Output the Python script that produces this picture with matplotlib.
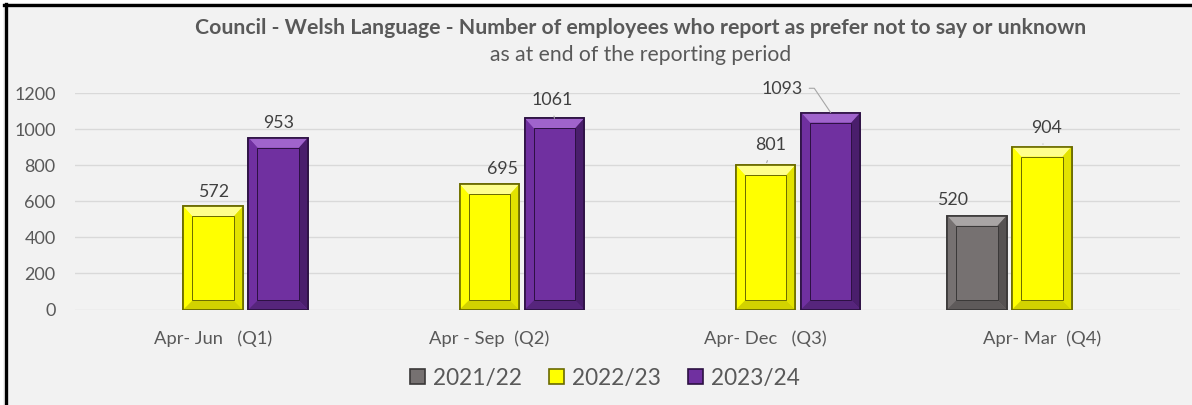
import matplotlib
matplotlib.use("Agg")
import matplotlib.pyplot as plt
from matplotlib.patches import Polygon, Rectangle
from matplotlib.lines import Line2D
import numpy as np

# ---------------- data ----------------
categories = ["Apr- Jun   (Q1)", "Apr - Sep  (Q2)", "Apr- Dec   (Q3)", "Apr- Mar  (Q4)"]
series_names = ["2021/22", "2022/23", "2023/24"]
values_2021_22 = [None, None, None, 520]
values_2022_23 = [572, 695, 801, 904]
values_2023_24 = [953, 1061, 1093, None]
y_ticks = [0, 200, 400, 600, 800, 1000, 1200]
title = "Council - Welsh Language - Number of employees who report as prefer not to say or unknown"
subtitle = "as at end of the reporting period"

# ---------------- style ----------------
FONT = ["Lato", "DejaVu Sans"]
plt.rcParams["font.family"] = FONT
TXT = "#595959"
LBL = "#404040"
BG = "#f2f2f2"
styles = {
    "2021/22": dict(face="#767171", edge="#3a3838", light="#a9a5a5", dark="#565252", bottom="#5e5a5a"),
    "2022/23": dict(face="#ffff00", edge="#6a6a00", light="#ffff8c", dark="#e2e200", bottom="#d2d200"),
    "2023/24": dict(face="#7030a0", edge="#2c1142", light="#a064cc", dark="#4a1e6c", bottom="#56257c"),
}
series_values = [values_2021_22, values_2022_23, values_2023_24]
# label offsets in pixels (dx, dy) from bar top centre, and leader style
label_offsets = {
    (1, 0): (0, 16, None), (2, 0): (0, 16, None),
    (1, 1): (13, 17, None), (2, 1): (-2, 20, "line"),
    (1, 2): (5, 22, "line"), (2, 2): (-49, 25, "angle"),
    (0, 3): (-24, 17, None), (1, 3): (4.5, 20, "line"),
}

W, H, DPI = 1192, 405, 100
fig = plt.figure(figsize=(W / DPI, H / DPI), dpi=DPI, facecolor=BG)

# frame: white margin, black top/left border
fig.add_artist(Rectangle((0, 1 - 3 / H), 1, 3 / H, transform=fig.transFigure, color="white", lw=0, zorder=0))
fig.add_artist(Rectangle((0, 0), 3 / W, 1, transform=fig.transFigure, color="white", lw=0, zorder=0))
fig.add_artist(Line2D([3.5 / W, 1], [1 - 5 / H, 1 - 5 / H], transform=fig.transFigure, color="black", lw=2.4))
fig.add_artist(Line2D([5.5 / W, 5.5 / W], [0, 1 - 3.8 / H], transform=fig.transFigure, color="black", lw=2.4))

ax_l, ax_r, ax_t, ax_b = 75, 1180, 93.3, 309.5
ax = fig.add_axes([ax_l / W, 1 - ax_b / H, (ax_r - ax_l) / W, (ax_b - ax_t) / H])
ax.set_facecolor(BG)
ax.set_xlim(-0.5, len(categories) - 0.5)
ax.set_ylim(0, 1200)
for s in ax.spines.values():
    s.set_visible(False)
ax.set_yticks(y_ticks)
ax.yaxis.grid(True, color="#d9d9d9", lw=1.0)
ax.set_axisbelow(True)
ax.tick_params(axis="both", length=0, colors=TXT)
ax.tick_params(axis="y", pad=14, labelsize=13)
ax.tick_params(axis="x", pad=15, labelsize=13.2)
x = np.arange(len(categories))
ax.set_xticks(x)
ax.set_xticklabels(categories)

bar_w = 0.215
offsets = [-0.2355, 0.0, 0.2355]

px_x = ax.transData.transform((1, 0))[0] - ax.transData.transform((0, 0))[0]
px_y = ax.transData.transform((0, 1))[1] - ax.transData.transform((0, 0))[1]
ix, it, ib = 9 / px_x, 10 / px_y, 9 / px_y


def bevel(patch, st):
    x0, y0 = patch.get_x(), patch.get_y()
    x1, y1 = x0 + patch.get_width(), y0 + patch.get_height()
    a, b, c, d = (x0 + ix, y1 - it), (x1 - ix, y1 - it), (x1 - ix, y0 + ib), (x0 + ix, y0 + ib)
    faces = [
        ([(x0, y1), (x1, y1), b, a], st["light"]),
        ([(x0, y0), (x0, y1), a, d], st["face"]),
        ([(x1, y0), (x1, y1), b, c], st["dark"]),
        ([(x0, y0), (x1, y0), c, d], st["bottom"]),
    ]
    for pts, col in faces:
        ax.add_patch(Polygon(pts, closed=True, facecolor=col, edgecolor="none", zorder=3))
    ax.add_patch(Rectangle(d, b[0] - d[0], b[1] - d[1], facecolor=st["face"], edgecolor=st["edge"],
                           lw=0.7, zorder=4))
    ax.add_patch(Rectangle((x0, y0), x1 - x0, y1 - y0, facecolor="none", edgecolor=st["edge"],
                           lw=1.2, zorder=5))


for si, (name, vals) in enumerate(zip(series_names, series_values)):
    st = styles[name]
    xs = [x[i] + offsets[si] for i, v in enumerate(vals) if v is not None]
    hs = [v for v in vals if v is not None]
    idx = [i for i, v in enumerate(vals) if v is not None]
    bars = ax.bar(xs, hs, width=bar_w, color=st["face"], edgecolor=st["edge"], lw=1.2, zorder=2)
    for p, ci, v in zip(bars, idx, hs):
        bevel(p, st)
        dx, dy, leader = label_offsets[(si, ci)]
        xc = p.get_x() + p.get_width() / 2
        kw = {}
        if leader == "line":
            kw["arrowprops"] = dict(arrowstyle="-", color="#a6a6a6", lw=0.8, shrinkA=4, shrinkB=-2,
                                    relpos=(0.5, 0.0))
        elif leader == "angle":
            kw["arrowprops"] = dict(arrowstyle="-", color="#a6a6a6", lw=0.8, shrinkA=3, shrinkB=0,
                                    relpos=(1.0, 0.55),
                                    connectionstyle="angle,angleA=0,angleB=124,rad=0")
        ax.annotate(f"{v}", xy=(xc, v), xytext=(dx, dy), textcoords="offset pixels",
                    ha="center", va="center_baseline", fontsize=12.8, color=LBL, zorder=6,
                    annotation_clip=False, **kw)

# titles
fig.text(641 / W, 1 - 28 / H, title, ha="center", va="center", fontsize=15.3, fontweight="bold", color=TXT)
fig.text(641 / W, 1 - 55 / H, subtitle, ha="center", va="center", fontsize=15.2, color=TXT)

# legend
handles = [Rectangle((0, 0), 1, 1, facecolor=styles[n]["face"], edgecolor=styles[n]["edge"], lw=1.2)
           for n in series_names]
leg = fig.legend(handles, series_names, loc="center", bbox_to_anchor=(605 / W, 1 - 378 / H), ncol=3,
                 frameon=False, fontsize=16.3, handlelength=0.66, handleheight=0.66, handletextpad=0.35,
                 columnspacing=1.2, labelcolor=TXT)

fig.savefig("out.png", dpi=DPI, facecolor=BG)
